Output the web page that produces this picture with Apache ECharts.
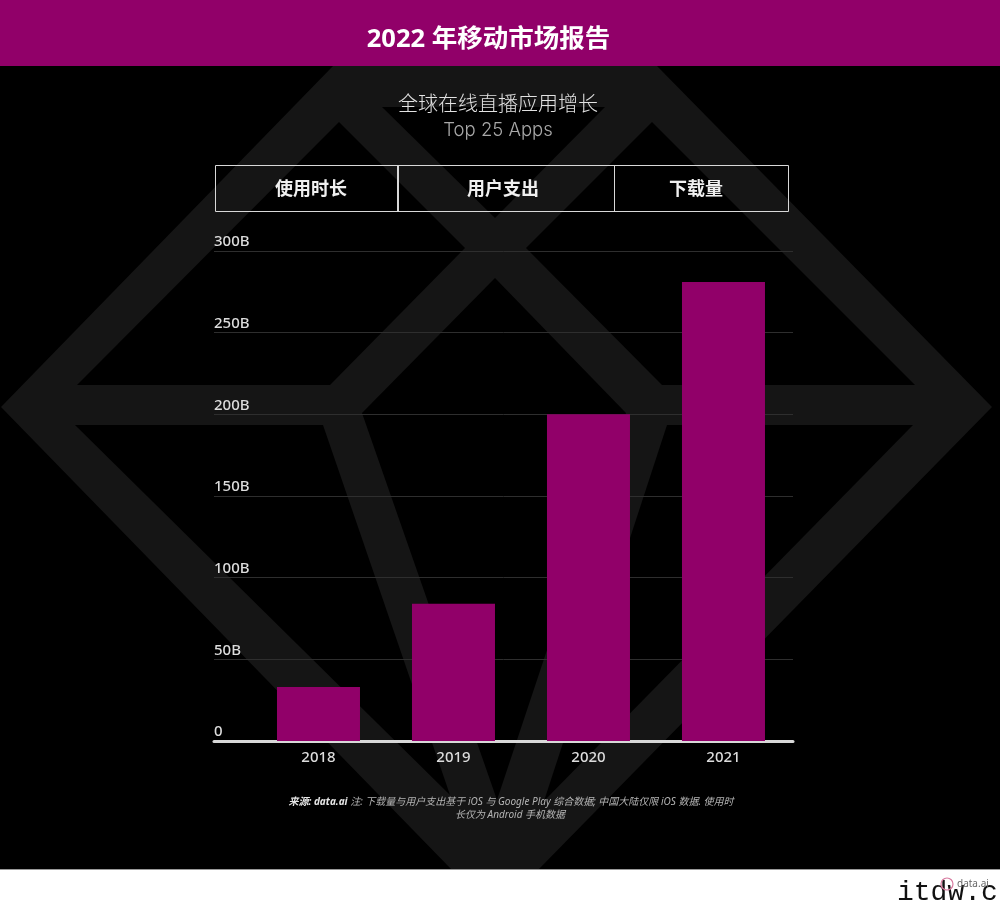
<!DOCTYPE html>
<html><head><meta charset="utf-8">
<style>html,body{margin:0;padding:0;background:#fff}#c{width:1000px;height:900px}</style>
<script src="https://cdn.jsdelivr.net/npm/echarts@6/dist/echarts.min.js"></script>
</head><body><div id="c"></div>
<script>
const years = [2018, 2019, 2020, 2021];
const downloads = [33, 84, 200, 281];
const yTicks = [0, 50, 100, 150, 200, 250, 300];
const pageTitle = '2022 年移动市场报告';
const subTitle = '全球在线直播应用增长';
const subTitle2 = 'Top 25 Apps';
const tabLabels = ['使用时长', '用户支出', '下载量'];
const sourceBold = '来源: data.ai';
const sourceLine1 = ' 注: 下载量与用户支出基于 iOS 与 Google Play 综合数据; 中国大陆仅限 iOS 数据. 使用时';
const sourceLine2 = '长仅为 Android 手机数据';

const FONT = '"Noto Sans","Noto Sans CJK SC",sans-serif';
const THIN = 'Inter,"Noto Sans CJK SC",sans-serif';
const MAGENTA = '#910069';
const BAND = '#151515';

// decorative gem watermark behind the chart
const gemOuter = [[1,407],[333,66],[657,66],[992,407],[538,870],[452,870]];
const gemHoles = [
  [[339,122],[465,248],[330,385],[77,385]],
  [[652,122],[526,248],[662,385],[915,385]],
  [[382,107],[605,107],[495,218]],
  [[495,278],[626,413],[497,800],[362,413]],
  [[75,425],[323,425],[450,795]],
  [[667,425],[913,425],[544,801]]
];
const poly = (pts, fill) => ({type:'polygon', silent:true, z:-10, shape:{points:pts}, style:{fill}});
const txt = (x, y, text, size, fill, weight, family) => ({type:'text', silent:true, z:20, x, y,
  style:{text, fill, font:`${weight||'normal'} ${size}px ${family||FONT}`, align:'center', verticalAlign:'middle'}});

const graphics = [
  {type:'rect', silent:true, z:-20, shape:{x:0,y:0,width:1000,height:870}, style:{fill:'#000'}},
  poly(gemOuter, BAND),
  ...gemHoles.map(h => poly(h, '#000')),
  {type:'rect', silent:true, z:-5, shape:{x:0,y:0,width:1000,height:66}, style:{fill:MAGENTA}},
  {type:'rect', silent:true, z:-5, shape:{x:0,y:869,width:1000,height:31}, style:{fill:'#fff'}},
  {type:'rect', silent:true, z:-4, shape:{x:0,y:869,width:1000,height:1}, style:{fill:'#999'}},
  txt(488.5, 40, pageTitle, 25.5, '#fff', 'bold'),
  txt(498, 105, subTitle, 20, '#e2e2e2', '300', THIN),
  txt(498, 130, subTitle2, 18.5, '#a8a8a8', '300', THIN),
  {type:'rect', silent:true, z:20, shape:{x:215.5,y:165.5,width:573,height:46}, style:{fill:'none',stroke:'#d8d8d8',lineWidth:1}},
  {type:'rect', silent:true, z:20, shape:{x:397,y:165,width:2,height:47}, style:{fill:'#d8d8d8'}},
  {type:'rect', silent:true, z:20, shape:{x:614,y:165,width:1,height:47}, style:{fill:'#d8d8d8'}},
  txt(311, 190, tabLabels[0], 18, '#f0f0f0', 'bold'),
  txt(503, 190, tabLabels[1], 18, '#f0f0f0', 'bold'),
  txt(696, 190, tabLabels[2], 18, '#f0f0f0', 'bold'),
  {type:'text', silent:true, z:20, x:511, y:802, style:{
    text:`{b|${sourceBold}}{n|${sourceLine1}}`, align:'center', verticalAlign:'middle',
    rich:{b:{font:`italic bold 10px ${FONT}`, fill:'#e6e6e6'}, n:{font:`italic 10px ${FONT}`, fill:'#b4b4b4'}}}},
  txt(510, 815, sourceLine2, 10, '#b4b4b4', 'italic'),
  {type:'text', silent:true, z:21, x:897, y:893, style:{text:'itdw.cn', fill:'#111', font:`28px "Liberation Mono",monospace`, align:'left', verticalAlign:'middle'}},
  {type:'circle', silent:true, z:22, shape:{cx:947,cy:884,r:6}, style:{fill:'none',stroke:'#d77a9f',lineWidth:1.2}},
  {type:'text', silent:true, z:22, x:957, y:884, style:{text:'data.ai', fill:'#666', font:`10px "Noto Sans",sans-serif`, align:'left', verticalAlign:'middle'}}
];

const chart = echarts.init(document.getElementById('c'), null, {renderer:'canvas'});
chart.setOption({
  animation:false,
  backgroundColor:'#fff',
  graphic:{elements:graphics},
  grid:{left:214, top:251, width:579, height:490},
  xAxis:{
    type:'value', min:2017.226, max:2021.515,
    splitLine:{show:false},
    axisLine:{show:true, onZero:true, lineStyle:{color:'#d8d8d8', width:3}},
    axisTick:{show:false},
    axisLabel:{customValues:years, color:'#dcdcdc', fontSize:15, fontWeight:500, fontFamily:FONT, margin:9, formatter:v => String(v)}
  },
  yAxis:{
    type:'value', min:yTicks[0], max:yTicks[yTicks.length-1], interval:50,
    axisLine:{show:false}, axisTick:{show:false},
    splitLine:{show:true, lineStyle:{color:'#2e2e2e', width:1}},
    axisLabel:{inside:true, margin:0, align:'left', verticalAlign:'bottom', lineHeight:18, color:'#dcdcdc', fontSize:15, fontWeight:500, fontFamily:FONT,
      formatter:v => v === 0 ? '0' : v + 'B'}
  },
  series:[{type:'bar', barWidth:83, itemStyle:{color:MAGENTA}, data:years.map((y,i)=>[y, downloads[i]])}]
});
</script></body></html>
